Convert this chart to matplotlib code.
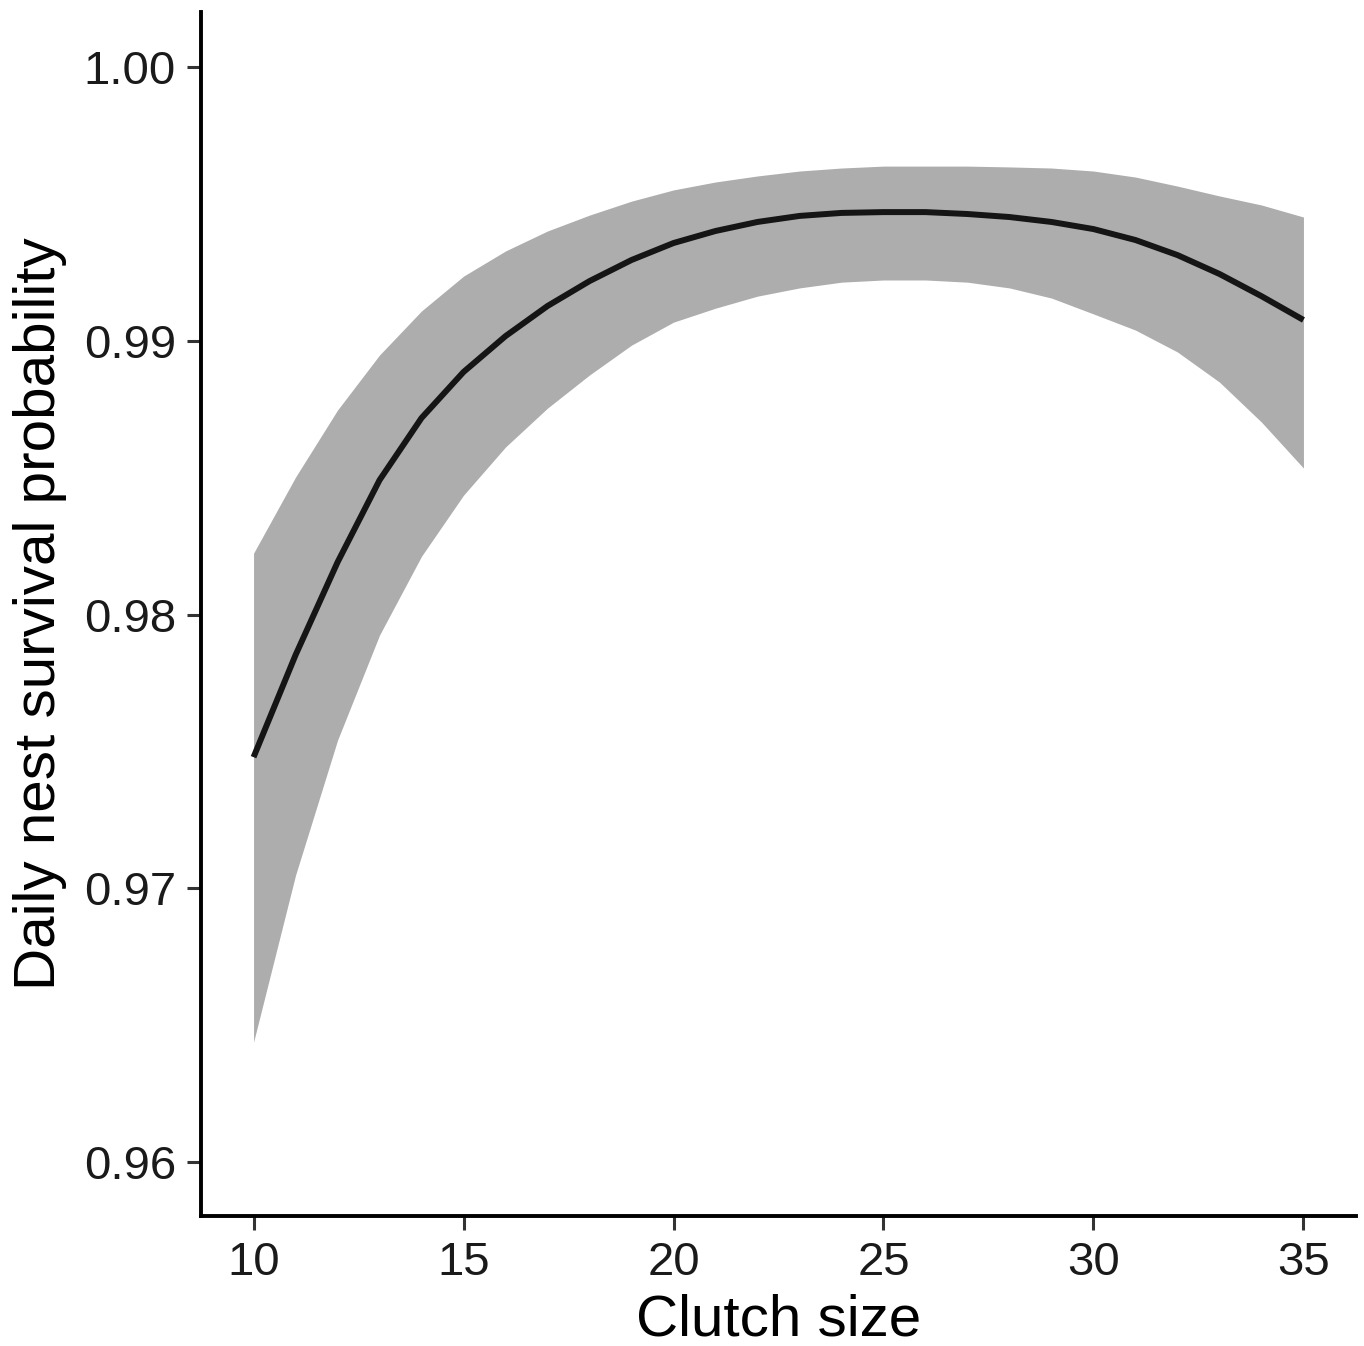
import matplotlib
matplotlib.use("Agg")
import matplotlib.pyplot as plt

plt.rcParams['font.family'] = ['Liberation Sans', 'DejaVu Sans']

# predicted daily nest survival vs clutch size
clutch = list(range(10, 36))
fit = [0.97479, 0.97852, 0.98191, 0.98491, 0.98718, 0.98886, 0.99017, 0.99127,
       0.99218, 0.99295, 0.99357, 0.99401, 0.99434, 0.99456, 0.99467, 0.99470,
       0.99470, 0.99463, 0.99452, 0.99434, 0.99408, 0.99368, 0.99313, 0.99244,
       0.99163, 0.99076]
upper = [0.98224, 0.98502, 0.98747, 0.98948, 0.99109, 0.99236, 0.99328, 0.99401,
         0.99459, 0.99510, 0.99551, 0.99580, 0.99602, 0.99620, 0.99631, 0.99638,
         0.99638, 0.99638, 0.99635, 0.99631, 0.99620, 0.99598, 0.99565, 0.99529,
         0.99496, 0.99452]
lower = [0.96438, 0.97048, 0.97541, 0.97925, 0.98213, 0.98436, 0.98612, 0.98754,
         0.98875, 0.98984, 0.99068, 0.99119, 0.99163, 0.99193, 0.99214, 0.99222,
         0.99222, 0.99214, 0.99193, 0.99156, 0.99098, 0.99039, 0.98959, 0.98849,
         0.98703, 0.98535]
xticks = [10, 15, 20, 25, 30, 35]
yticks = [0.96, 0.97, 0.98, 0.99, 1.00]

fig = plt.figure(figsize=(13.64, 13.46), dpi=100)
ax = fig.add_axes([0.1474, 0.0966, 0.8467, 0.8945])

ax.fill_between(clutch, lower, upper, color="#adadad", linewidth=0)
ax.plot(clutch, fit, color="#151515", linewidth=4.3, solid_capstyle="butt")

ax.set_xlim(8.75, 36.25)
ax.set_ylim(0.95803, 1.00201)
ax.set_xticks(xticks)
ax.set_yticks(yticks)
ax.set_yticklabels([f"{v:.2f}" for v in yticks])

for s in ["top", "right"]:
    ax.spines[s].set_visible(False)
for s in ["left", "bottom"]:
    ax.spines[s].set_linewidth(2.8)
    ax.spines[s].set_color("black")

ax.tick_params(length=10, width=2.2, color="#333333", labelsize=34,
               labelcolor="#1a1a1a", pad=8)

ax.set_xlabel("Clutch size", fontsize=42, labelpad=6)
ax.set_ylabel("Daily nest survival probability", fontsize=42, labelpad=12)

fig.savefig("out.png", dpi=100)
